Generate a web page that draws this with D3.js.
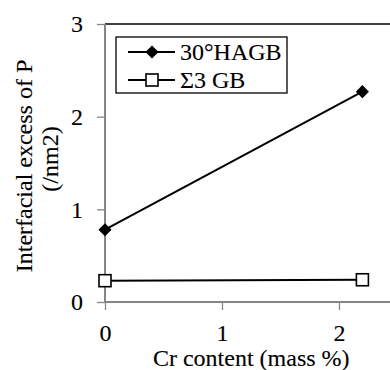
<!DOCTYPE html>
<html>
<head>
<meta charset="utf-8">
<script src="https://cdn.jsdelivr.net/npm/d3@7"></script>
<style>
  body { margin: 0; background: #fff; }
  svg text { font-family: "Liberation Serif", "Times New Roman", Times, serif; stroke: #000; stroke-width: 0.12px; }
</style>
</head>
<body>
<div id="chart"></div>
<script>
// data
var crContent = [0, 2.2];
var hagbExcess = [0.78, 2.27];
var sigma3Excess = [0.23, 0.24];
var seriesNames = ["30°HAGB", "Σ3 GB"];
var xTicks = [0, 1, 2];
var yTicks = [0, 1, 2, 3];

var drawGraph = function(){

  const width = 390;
  const height = 370;
  var fontSize = 24;
  var fontFamily = "'Liberation Serif', 'Times New Roman', Times, serif";
  var axisColor = "#868686";

  var svg = d3.select("#chart")
    .append("svg")
    .attr("width", width)
    .attr("height", height)
    .attr("font-family", fontFamily);

  //scales, the plot runs past the right edge of the picture
  var x = d3.scaleLinear().domain([0, 2.5]).range([105, 397.5]);
  var y = d3.scaleLinear().domain([0, 3]).range([302, 24]);

  //plot area border (top/right black)
  svg.append("line")
    .attr("x1", x(0)).attr("x2", width + 10)
    .attr("y1", y(3)).attr("y2", y(3))
    .attr("stroke", "#000").attr("stroke-width", 1.3);

  //y axis
  var yAxis = svg.append("g")
    .attr("transform", "translate(" + x(0) + ",0)")
    .call(d3.axisLeft(y).tickValues(yTicks).tickSize(8).tickPadding(14).tickFormat(d3.format("d")));

  //x axis
  var xAxis = svg.append("g")
    .attr("transform", "translate(0," + y(0) + ")")
    .call(d3.axisBottom(x).tickValues(xTicks).tickSize(8).tickPadding(14).tickFormat(d3.format("d")));

  [xAxis, yAxis].forEach(function(a){
    a.attr("font-family", fontFamily).attr("font-size", fontSize);
    a.select(".domain").attr("stroke", axisColor).attr("stroke-width", 2);
    a.selectAll(".tick line").attr("stroke", axisColor).attr("stroke-width", 1.3);
    a.selectAll(".tick text").attr("fill", "#000");
  });
  //no outer tick stubs on the domains
  xAxis.select(".domain").attr("d", "M" + x(0) + ",0H" + (width + 10));
  yAxis.select(".domain").attr("d", "M0," + y(0) + "V" + y(3));

  //lines
  var line = d3.line()
    .x(function(d){ return x(d[0]); })
    .y(function(d){ return y(d[1]); });

  var hagb = d3.zip(crContent, hagbExcess);
  var sig3 = d3.zip(crContent, sigma3Excess);

  [hagb, sig3].forEach(function(s){
    svg.append("path")
      .datum(s)
      .attr("d", line)
      .attr("fill", "none")
      .attr("stroke", "#000")
      .attr("stroke-width", 2);
  });

  var diamond = d3.symbol().type(d3.symbolDiamond2).size(110);

  svg.selectAll(".hagb")
    .data(hagb)
    .enter().append("path")
    .attr("class", "hagb")
    .attr("transform", function(d){ return "translate(" + x(d[0]) + "," + y(d[1]) + ")"; })
    .attr("d", diamond)
    .attr("fill", "#000");

  svg.selectAll(".sig3")
    .data(sig3)
    .enter().append("rect")
    .attr("class", "sig3")
    .attr("x", function(d){ return x(d[0]) - 6; })
    .attr("y", function(d){ return y(d[1]) - 6; })
    .attr("width", 12)
    .attr("height", 12)
    .attr("fill", "#fff")
    .attr("stroke", "#000")
    .attr("stroke-width", 1.6);

  //legend
  var legend = svg.append("g");
  legend.append("rect")
    .attr("x", 116).attr("y", 37)
    .attr("width", 171).attr("height", 56)
    .attr("fill", "#fff")
    .attr("stroke", "#000")
    .attr("stroke-width", 1.3);

  var rows = [52, 80];
  seriesNames.forEach(function(name, i){
    legend.append("line")
      .attr("x1", 128).attr("x2", 175)
      .attr("y1", rows[i]).attr("y2", rows[i])
      .attr("stroke", "#000").attr("stroke-width", 2);
    if (i === 0) {
      legend.append("path")
        .attr("transform", "translate(152," + rows[i] + ")")
        .attr("d", diamond)
        .attr("fill", "#000");
    } else {
      legend.append("rect")
        .attr("x", 146).attr("y", rows[i] - 6)
        .attr("width", 12).attr("height", 12)
        .attr("fill", "#fff").attr("stroke", "#000").attr("stroke-width", 1.6);
    }
    legend.append("text")
      .attr("x", 180).attr("y", rows[i])
      .attr("dy", "0.35em")
      .attr("font-size", fontSize)
      .text(name);
  });

  //axis titles
  svg.append("text")
    .attr("x", x(1.25)).attr("y", 366)
    .attr("text-anchor", "middle")
    .attr("font-size", fontSize)
    .text("Cr content (mass %)");

  svg.append("text")
    .attr("transform", "translate(32,166) rotate(-90)")
    .attr("text-anchor", "middle")
    .attr("font-size", fontSize)
    .text("Interfacial excess of P");

  svg.append("text")
    .attr("transform", "translate(58,159) rotate(-90)")
    .attr("text-anchor", "middle")
    .attr("font-size", fontSize)
    .text("(/nm2)");
}

drawGraph();
</script>
</body>
</html>
